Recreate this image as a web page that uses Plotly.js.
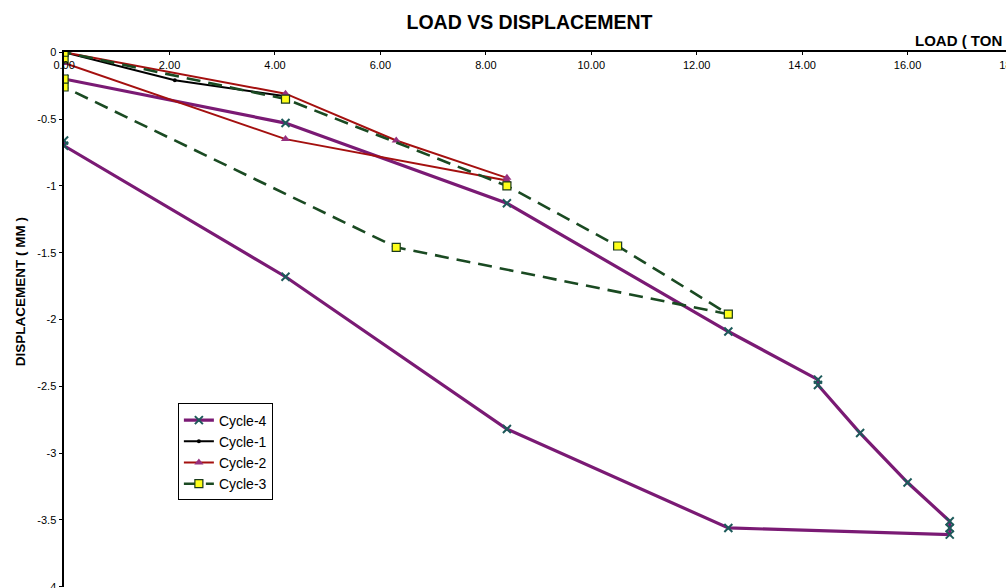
<!DOCTYPE html>
<html>
<head>
<meta charset="utf-8">
<script src="https://cdn.plot.ly/plotly-3.0.1.min.js"></script>
<style>
html,body{margin:0;padding:0;overflow:hidden;background:#fff;}
#chart{width:1020px;height:588px;}
</style>
</head>
<body>
<div id="chart"></div>
<script>
// Data
const cycle4Load = [0, 4.2, 8.4, 12.6, 14.3, 14.3, 15.1, 16.0, 16.8, 16.8, 16.8, 12.6, 8.4, 4.2, 0, 0];
const cycle4Disp = [-0.2, -0.53, -1.13, -2.09, -2.45, -2.49, -2.85, -3.22, -3.51, -3.56, -3.61, -3.56, -2.82, -1.68, -0.70, -0.66];

const cycle1Load = [0, 2.1, 4.2];
const cycle1Disp = [0, -0.21, -0.33];

const cycle2Load = [0, 4.2, 6.3, 8.4, 8.4, 4.2, 0];
const cycle2Disp = [0, -0.31, -0.66, -0.94, -0.96, -0.65, -0.08];

const cycle3Load = [0, 0, 4.2, 8.4, 10.5, 12.6, 6.3, 0, 0];
const cycle3Disp = [-0.05, 0, -0.35, -1.0, -1.45, -1.96, -1.46, -0.26, -0.2];

const xTickVals = [0, 2, 4, 6, 8, 10, 12, 14, 16, 18];
const xTickText = ['0.00', '2.00', '4.00', '6.00', '8.00', '10.00', '12.00', '14.00', '16.00', '18.00'];
const yTickVals = [0, -0.5, -1, -1.5, -2, -2.5, -3, -3.5, -4];
const yTickText = ['0', '-0.5', '-1', '-1.5', '-2', '-2.5', '-3', '-3.5', '-4'];

const traces = [
  {
    x: cycle4Load, y: cycle4Disp, name: 'Cycle-4', type: 'scatter', mode: 'lines+markers',
    line: {color: '#7a1a74', width: 3.2},
    marker: {symbol: 'x-thin', size: 8, color: '#1d5a5a', line: {color: '#1d5a5a', width: 2}}
  },
  {
    x: cycle1Load, y: cycle1Disp, name: 'Cycle-1', type: 'scatter', mode: 'lines+markers',
    line: {color: '#000000', width: 2},
    marker: {symbol: 'circle', size: 4, color: '#000000'}
  },
  {
    x: cycle2Load, y: cycle2Disp, name: 'Cycle-2', type: 'scatter', mode: 'lines+markers',
    line: {color: '#a4100f', width: 2},
    marker: {symbol: 'triangle-up', size: 8, color: '#96307f'}
  },
  {
    x: cycle3Load, y: cycle3Disp, name: 'Cycle-3', type: 'scatter', mode: 'lines+markers',
    line: {color: '#1a4a22', width: 2.6, dash: '14px,8px'},
    marker: {symbol: 'square', size: 8, color: '#ffff1a', line: {color: '#1a3a1a', width: 1.2}}
  }
];

const layout = {
  width: 1020, height: 588,
  margin: {l: 64, r: 7, t: 52, b: 1},
  paper_bgcolor: '#ffffff', plot_bgcolor: '#ffffff',
  font: {family: 'Liberation Sans, Arial, sans-serif', color: '#000'},
  showlegend: true,
  title: {
    text: '<b>LOAD VS DISPLACEMENT</b>',
    font: {size: 19.5, color: '#000', family: 'Liberation Sans, Arial, sans-serif'},
    x: 0.4905, xref: 'paper', xanchor: 'center',
    y: 0.963, yref: 'container', yanchor: 'middle'
  },
  xaxis: {
    side: 'top', range: [-0.002, 18], tickvals: xTickVals, ticktext: xTickText,
    ticklabelposition: 'inside', ticklabeloverflow: 'allow', ticklabelstandoff: 6,
    ticks: 'inside', ticklen: 3, tickcolor: '#000',
    tickfont: {size: 11, color: '#000'},
    showline: true, linecolor: '#000', linewidth: 2.5,
    showgrid: false, zeroline: false, fixedrange: true
  },
  yaxis: {
    range: [-4.002, 0.002], tickvals: yTickVals, ticktext: yTickText,
    ticklabeloverflow: 'allow',
    ticks: 'outside', ticklen: 3, tickcolor: '#000',
    tickfont: {size: 11, color: '#000'},
    showline: true, linecolor: '#000', linewidth: 2.5,
    showgrid: false, zeroline: false, fixedrange: true
  },
  legend: {
    x: 0.12, y: 0.343, xanchor: 'left', yanchor: 'top',
    bgcolor: '#ffffff', bordercolor: '#000', borderwidth: 1,
    font: {size: 14, color: '#000'},
    tracegroupgap: 0, itemwidth: 30
  },
  annotations: [
    {
      text: '<b>LOAD ( TON )</b>', xref: 'paper', yref: 'paper',
      x: 1.0, y: 1.0, xanchor: 'right', yanchor: 'bottom', yshift: 1,
      showarrow: false, font: {size: 15, color: '#000'}
    },
    {
      text: '<b>DISPLACEMENT ( MM )</b>', xref: 'paper', yref: 'paper',
      x: 0, xshift: -44, y: 0.551, xanchor: 'center', yanchor: 'middle',
      textangle: -90, showarrow: false, font: {size: 13.5, color: '#000'}
    }
  ]
};

Plotly.newPlot('chart', traces, layout, {displayModeBar: false, staticPlot: true});
</script>
</body>
</html>
